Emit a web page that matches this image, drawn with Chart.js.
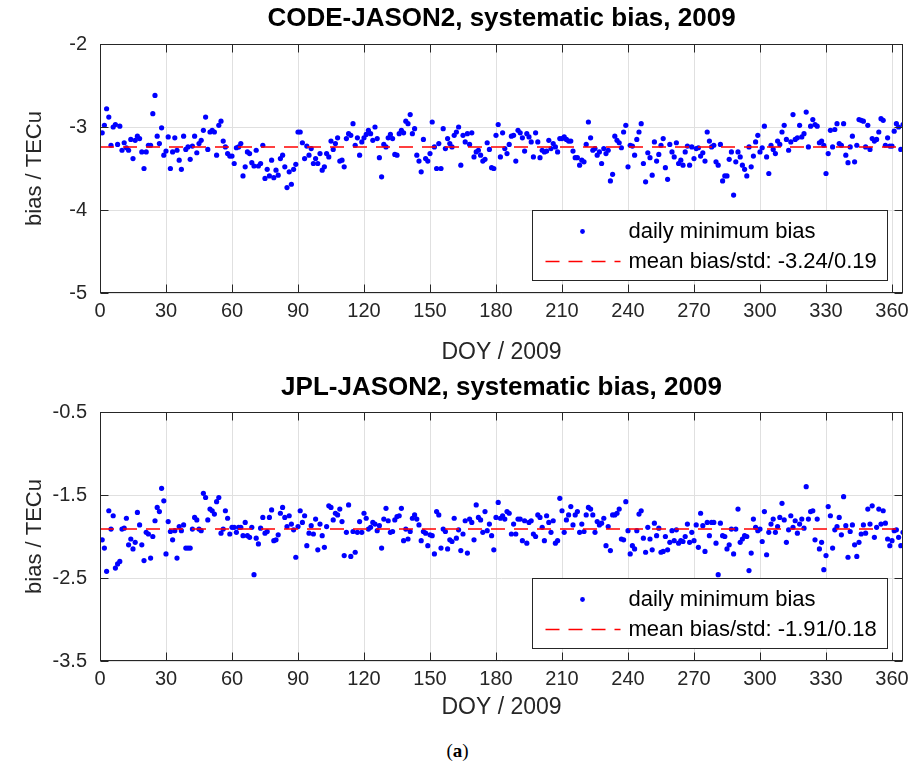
<!DOCTYPE html>
<html>
<head>
<meta charset="utf-8">
<script src="https://cdn.jsdelivr.net/npm/chart.js@4.4.1/dist/chart.umd.min.js"></script>
<style>
  body { margin: 0; background: #fff; width: 915px; height: 772px; position: relative; overflow: hidden; }
  canvas { position: absolute; left: 0; }
  #topChart { top: 0; }
  #bottomChart { top: 370px; }
  #caption { position: absolute; left: 0; top: 740px; width: 915px; text-align: center;
             font-family: 'Liberation Serif', serif; font-size: 19px; color: #000; }
</style>
</head>
<body>
<canvas id="topChart" width="915" height="370"></canvas>
<canvas id="bottomChart" width="915" height="365"></canvas>
<div id="caption">(<b>a</b>)</div>
<script>
// day of year 1..365
const days = Array.from({ length: 365 }, (_, i) => i + 1);
const xMin = 0, xMax = 365;
const xTicks = [0, 30, 60, 90, 120, 150, 180, 210, 240, 270, 300, 330, 360];

// CODE-JASON2 daily minimum bias (TECu)
const codeBias = [
  -3.07,-2.98,-2.78,-2.88,-3.22,-3.00,-2.97,-3.21,-2.99,-3.28,
  -3.19,-3.25,-3.28,-3.15,-3.38,-3.16,-3.11,-3.14,-3.30,-3.50,
  -3.30,-3.22,-3.22,-2.84,-2.62,-3.11,-3.20,-3.01,-3.34,-3.29,
  -3.12,-3.50,-3.30,-3.13,-3.28,-3.40,-3.51,-3.11,-3.27,-3.24,
  -3.39,-3.23,-3.11,-3.31,-3.20,-3.16,-3.04,-2.88,-3.27,-3.06,
  -3.04,-3.06,-3.34,-2.98,-2.93,-3.17,-3.24,-3.32,-3.35,-3.35,
  -3.44,-3.25,-3.24,-3.20,-3.59,-3.48,-3.30,-3.32,-3.43,-3.47,
  -3.28,-3.47,-3.44,-3.22,-3.62,-3.51,-3.59,-3.40,-3.61,-3.52,
  -3.58,-3.38,-3.34,-3.48,-3.73,-3.54,-3.69,-3.51,-3.45,-3.06,
  -3.06,-3.19,-3.38,-3.23,-3.34,-3.26,-3.44,-3.38,-3.44,-3.32,
  -3.52,-3.48,-3.32,-3.36,-3.17,-3.27,-3.20,-3.13,-3.41,-3.40,
  -3.48,-3.14,-3.08,-3.10,-2.96,-3.22,-3.13,-3.34,-3.18,-3.13,
  -3.09,-3.04,-3.08,-3.16,-3.00,-3.14,-3.37,-3.60,-3.21,-3.24,
  -3.13,-3.09,-3.14,-3.33,-3.34,-3.08,-3.04,-3.07,-2.93,-2.96,
  -2.85,-3.08,-3.02,-3.34,-3.41,-3.54,-3.15,-3.38,-3.41,-3.32,
  -2.94,-3.24,-3.50,-3.20,-3.50,-3.02,-3.26,-3.14,-3.20,-3.24,
  -3.10,-3.06,-3.00,-3.46,-3.10,-3.18,-3.08,-3.21,-3.07,-3.36,
  -3.30,-3.28,-3.34,-3.41,-3.39,-3.19,-3.27,-3.49,-3.50,-3.10,
  -2.97,-3.36,-3.07,-3.26,-3.32,-3.21,-3.11,-3.10,-3.41,-3.04,
  -3.07,-3.13,-3.29,-3.08,-3.12,-3.18,-3.36,-3.07,-3.18,-3.37,
  -3.28,-3.30,-3.29,-3.16,-3.26,-3.20,-3.24,-3.30,-3.14,-3.14,
  -3.12,-3.15,-3.17,-3.17,-3.29,-3.37,-3.37,-3.46,-3.40,-3.42,
  -3.21,-2.94,-3.13,-3.28,-3.26,-3.34,-3.30,-3.44,-3.26,-3.32,
  -3.28,-3.65,-3.57,-3.11,-3.16,-3.19,-3.25,-3.06,-2.98,-3.48,
  -3.22,-3.23,-3.34,-3.15,-3.06,-2.96,-3.44,-3.66,-3.31,-3.37,
  -3.58,-3.18,-3.41,-3.33,-3.22,-3.14,-3.49,-3.63,-3.21,-3.30,
  -3.36,-3.19,-3.44,-3.40,-3.46,-3.30,-3.23,-3.46,-3.24,-3.38,
  -3.26,-3.25,-3.35,-3.31,-3.41,-3.06,-3.17,-3.24,-3.22,-3.42,
  -3.46,-3.21,-3.65,-3.59,-3.59,-3.39,-3.30,-3.82,-3.42,-3.30,
  -3.36,-3.46,-3.51,-3.59,-3.24,-3.48,-3.35,-3.18,-3.10,-3.30,
  -3.25,-2.99,-3.36,-3.56,-3.22,-3.27,-3.32,-3.17,-3.21,-3.06,
  -2.98,-3.15,-3.28,-3.18,-2.85,-3.15,-3.13,-2.98,-3.12,-3.08,
  -2.82,-3.24,-2.99,-2.91,-2.97,-2.99,-3.19,-3.17,-3.22,-3.56,
  -3.32,-3.04,-3.24,-3.03,-2.96,-3.20,-3.22,-2.96,-3.34,-3.43,
  -3.24,-3.11,-3.42,-3.22,-2.91,-2.92,-2.93,-3.24,-2.98,-3.27,
  -3.14,-3.17,-3.15,-3.06,-2.90,-2.92,-3.22,-3.13,-3.23,-3.23,
  -3.05,-2.96,-3.00,-3.27,-2.97
];
const codeMean = -3.24, codeStd = 0.19;
const codeTicks = [-5, -4, -3, -2];

// JPL-JASON2 daily minimum bias (TECu)
const jplBias = [
  -2.04,-2.14,-2.42,-1.69,-1.91,-1.75,-2.38,-2.33,-2.30,-1.91,
  -1.90,-1.78,-2.10,-2.03,-2.15,-2.07,-1.71,-1.86,-2.10,-2.29,
  -1.95,-1.97,-2.26,-2.00,-1.81,-1.65,-1.70,-1.42,-1.57,-2.21,
  -1.82,-1.94,-2.04,-1.93,-2.26,-1.88,-1.93,-1.86,-2.14,-2.14,
  -2.14,-1.91,-1.77,-1.80,-1.91,-1.93,-1.48,-1.53,-1.80,-1.67,
  -1.69,-1.73,-1.58,-1.53,-1.96,-1.91,-1.69,-1.78,-1.97,-1.89,
  -1.89,-1.95,-1.89,-1.89,-1.99,-1.83,-1.99,-2.01,-1.89,-2.46,
  -2.02,-2.09,-1.90,-1.77,-1.96,-1.94,-1.77,-1.68,-2.05,-2.04,
  -1.98,-1.72,-1.65,-1.77,-1.88,-1.75,-1.85,-1.92,-2.25,-1.88,
  -1.69,-1.83,-1.75,-2.11,-1.96,-1.87,-1.97,-1.79,-2.16,-1.85,
  -1.99,-2.13,-1.88,-1.63,-1.65,-1.80,-1.72,-1.74,-1.67,-1.82,
  -2.23,-1.95,-1.62,-2.24,-1.94,-2.19,-1.95,-1.82,-1.95,-1.72,
  -1.78,-1.91,-1.89,-1.83,-1.85,-1.93,-1.87,-2.14,-1.79,-1.66,
  -1.81,-1.95,-1.94,-1.80,-1.76,-1.75,-1.66,-2.05,-1.91,-2.03,
  -1.94,-1.78,-1.74,-1.79,-1.86,-2.05,-1.94,-1.96,-2.11,-1.98,
  -1.99,-2.21,-1.70,-1.74,-2.14,-1.91,-1.94,-2.15,-2.04,-2.06,
  -1.78,-2.02,-1.92,-2.17,-1.97,-1.81,-2.20,-1.79,-1.83,-2.04,
  -1.62,-1.77,-1.80,-1.95,-1.70,-1.93,-1.85,-1.99,-2.16,-1.77,
  -1.59,-1.78,-1.75,-1.79,-1.70,-1.72,-1.97,-1.85,-1.97,-1.79,
  -1.79,-2.05,-1.81,-2.08,-1.83,-1.81,-1.97,-2.00,-1.74,-1.77,
  -1.89,-2.05,-1.75,-1.83,-1.95,-1.81,-2.08,-2.05,-1.54,-1.69,
  -1.95,-1.80,-1.74,-1.64,-1.86,-1.74,-1.70,-1.95,-1.85,-1.94,
  -1.74,-1.65,-1.67,-1.74,-1.95,-1.82,-1.86,-1.84,-1.78,-2.11,
  -1.88,-2.17,-1.74,-1.74,-1.72,-1.67,-2.03,-2.04,-1.58,-1.93,
  -2.21,-2.11,-2.15,-1.93,-1.73,-1.69,-2.02,-2.19,-1.89,-2.03,
  -2.16,-1.84,-1.99,-1.90,-2.19,-2.18,-2.00,-2.16,-2.07,-1.93,
  -2.05,-1.92,-2.08,-2.05,-2.06,-2.00,-1.85,-2.07,-1.95,-2.05,
  -1.86,-2.13,-1.72,-1.87,-2.18,-1.83,-1.99,-1.83,-1.83,-2.08,
  -2.46,-1.84,-1.99,-2.00,-2.15,-2.10,-1.91,-2.21,-1.91,-1.67,
  -2.07,-2.03,-1.99,-2.00,-2.41,-2.20,-1.79,-1.89,-1.93,-1.91,
  -2.06,-1.70,-2.22,-1.95,-1.85,-1.79,-1.95,-1.88,-1.77,-1.60,
  -1.80,-2.07,-1.92,-1.75,-1.89,-1.81,-1.96,-1.85,-1.79,-1.90,
  -1.40,-1.79,-1.70,-1.69,-2.04,-1.79,-2.15,-2.07,-2.40,-2.23,
  -1.64,-1.75,-2.14,-1.92,-1.88,-1.77,-1.98,-1.52,-1.87,-2.25,
  -1.94,-1.86,-2.10,-2.24,-2.07,-1.97,-1.86,-1.96,-1.67,-1.85,
  -1.63,-2.01,-1.89,-1.67,-1.85,-1.69,-1.84,-2.03,-2.11,-2.05,
  -1.93,-1.92,-2.01,-2.11,-1.95
];
const jplMean = -1.91, jplStd = 0.18;
const jplTicks = [-3.5, -2.5, -1.5, -0.5];

const fontFamily = "'Liberation Sans', Arial, sans-serif";
const textColor = '#262626';

// MATLAB-like box with inward ticks, title centred on the axes, legend inside the axes
const matlabAxes = {
  id: 'matlabAxes',
  afterDraw(chart, args, opts) {
    const { ctx, chartArea: a, scales: { x, y } } = chart;
    const L = Math.round(a.left) + 0.5, R = Math.round(a.right) - 0.5;
    const T = Math.round(a.top) + 0.5, B = Math.round(a.bottom) - 0.5;
    ctx.save();
    ctx.strokeStyle = textColor;
    ctx.lineWidth = 1;
    ctx.strokeRect(L, T, R - L, B - T);
    ctx.beginPath();
    x.ticks.forEach(t => {
      const px = Math.round(x.getPixelForValue(t.value)) + 0.5;
      ctx.moveTo(px, B); ctx.lineTo(px, B - 8);
      ctx.moveTo(px, T); ctx.lineTo(px, T + 8);
    });
    y.ticks.forEach(t => {
      const py = Math.round(y.getPixelForValue(t.value)) + 0.5;
      ctx.moveTo(L, py); ctx.lineTo(L + 8, py);
      ctx.moveTo(R, py); ctx.lineTo(R - 8, py);
    });
    ctx.stroke();

    // title
    ctx.fillStyle = '#000';
    ctx.font = 'bold 26px ' + fontFamily;
    ctx.textAlign = 'center';
    ctx.textBaseline = 'middle';
    ctx.fillText(opts.title, (a.left + a.right) / 2, opts.titleY);

    // legend
    const ds = chart.data.datasets;
    const lw = 355, lh = 70;
    const lx = Math.round(a.right - 16 - lw) + 0.5, ly = Math.round(a.bottom - 13 - lh) + 0.5;
    ctx.fillStyle = '#fff';
    ctx.fillRect(lx, ly, lw, lh);
    ctx.strokeStyle = textColor;
    ctx.strokeRect(lx, ly, lw, lh);

    ctx.fillStyle = ds[0].backgroundColor;
    ctx.beginPath();
    ctx.arc(lx + 50, ly + 21, 2.4, 0, Math.PI * 2);
    ctx.fill();

    ctx.strokeStyle = ds[1].borderColor;
    ctx.lineWidth = ds[1].borderWidth;
    ctx.setLineDash(ds[1].borderDash);
    ctx.beginPath();
    ctx.moveTo(lx + 13, ly + 51);
    ctx.lineTo(lx + 88, ly + 51);
    ctx.stroke();
    ctx.setLineDash([]);

    ctx.fillStyle = '#000';
    ctx.font = '22px ' + fontFamily;
    ctx.textAlign = 'left';
    ctx.fillText(ds[0].label, lx + 96, ly + 21);
    ctx.fillText(ds[1].label, lx + 96, ly + 51);
    ctx.restore();
  }
};

function makeChart(id, title, values, mean, std, yTicks, lay) {
  return new Chart(document.getElementById(id), {
    type: 'scatter',
    data: {
      datasets: [
        {
          label: 'daily minimum bias',
          data: days.map((d, i) => ({ x: d, y: values[i] })),
          backgroundColor: '#0000ff',
          pointRadius: 2.6,
          pointBorderWidth: 0,
          order: 2
        },
        {
          type: 'line',
          label: 'mean bias/std: ' + mean.toFixed(2) + '/' + std.toFixed(2),
          data: [{ x: xMin, y: mean }, { x: xMax, y: mean }],
          borderColor: '#ff0000',
          borderWidth: 1.5,
          borderDash: [14, 9],
          pointRadius: 0,
          fill: false,
          order: 1
        }
      ]
    },
    options: {
      responsive: false,
      animation: false,
      devicePixelRatio: 1,
      layout: { padding: { left: 0, right: 12, top: lay.top, bottom: 0 } },
      scales: {
        x: {
          type: 'linear',
          min: xMin,
          max: xMax,
          afterBuildTicks: s => { s.ticks = xTicks.map(v => ({ value: v })); },
          afterFit: s => { s.height = lay.xHeight; },
          grid: { color: '#e0e0e0', drawTicks: false },
          border: { display: false },
          ticks: {
            padding: 6,
            color: textColor,
            font: { family: fontFamily, size: 20 },
            maxRotation: 0,
            callback: v => String(v)
          },
          title: {
            display: true,
            text: 'DOY / 2009',
            color: textColor,
            font: { family: fontFamily, size: 23 },
            padding: { top: 0, bottom: lay.xTitlePad }
          }
        },
        y: {
          min: yTicks[0],
          max: yTicks[yTicks.length - 1],
          afterBuildTicks: s => { s.ticks = yTicks.map(v => ({ value: v })); },
          afterFit: s => { s.width = 100; },
          grid: { color: '#e0e0e0', drawTicks: false },
          border: { display: false },
          ticks: {
            padding: 13,
            color: textColor,
            font: { family: fontFamily, size: 20 },
            callback: v => String(v)
          },
          title: {
            display: true,
            text: 'bias / TECu',
            color: textColor,
            font: { family: fontFamily, size: 22 },
            padding: { top: 22, bottom: 0 }
          }
        }
      },
      plugins: {
        legend: { display: false },
        tooltip: { enabled: false },
        title: { display: false },
        matlabAxes: { title: title, titleY: lay.titleY }
      }
    },
    plugins: [matlabAxes]
  });
}

makeChart('topChart', 'CODE-JASON2, systematic bias, 2009', codeBias, codeMean, codeStd, codeTicks,
  { top: 44, xHeight: 77, xTitlePad: 4, titleY: 19 });
makeChart('bottomChart', 'JPL-JASON2, systematic bias, 2009', jplBias, jplMean, jplStd, jplTicks,
  { top: 42, xHeight: 74, xTitlePad: 14, titleY: 18 });
</script>
</body>
</html>
